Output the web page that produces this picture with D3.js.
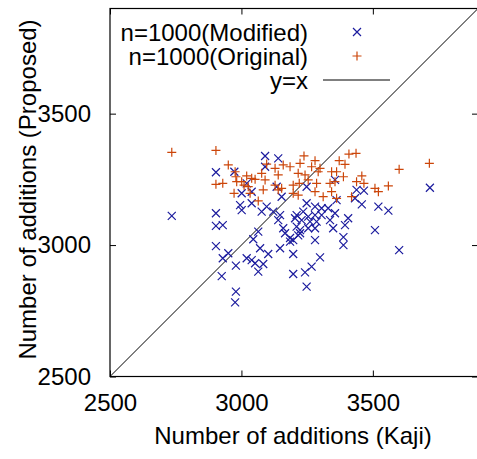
<!DOCTYPE html>
<html>
<head>
<meta charset="utf-8">
<script src="https://cdn.jsdelivr.net/npm/d3@7"></script>
<style>
  body { margin: 0; background: #fff; }
  text { font-family: "Liberation Sans", Arial, sans-serif; fill: #000; }
</style>
</head>
<body>
<svg id="chart"></svg>
<script>
// Number of additions: Kaji (x) vs Proposed (y)
const modifiedKaji = [2735, 2903, 2973, 3020, 3001, 3039, 2995, 3001, 3039, 2903, 2903, 2929, 3064, 3045, 2903, 2950, 2929, 3020, 3039, 3052, 2979, 3064, 2925, 2979, 2976,
  3090, 3140, 3090, 3717, 3134, 3248, 3438, 3466, 3432, 3362, 3458, 3153, 3521, 3559, 3096, 3121, 3248, 3280, 3305, 3330, 3356, 3077, 3147, 3210, 3235, 3254, 3280, 3305,
  3140, 3204, 3229, 3261, 3286, 3337, 3406, 3394, 3159, 3210, 3223, 3254, 3280, 3349, 3508, 3166, 3223, 3388, 3388, 3197, 3185, 3280, 3600, 3071, 3102, 3147, 3197,
  3299, 3267, 3242, 3197, 3083, 3248, 3216, 3185, 3356];
const modifiedProposed = [3111, 3277, 3279, 3235, 3197, 3203, 3152, 3133, 3159, 3121, 3073, 3076, 3051, 3022, 2996, 2969, 2950, 2950, 2943, 2931, 2922, 2899, 2882, 2823, 2782,
  3339, 3330, 3298, 3218, 3222, 3222, 3210, 3207, 3178, 3171, 3155, 3184, 3146, 3131, 3146, 3127, 3159, 3146, 3140, 3140, 3121, 3127, 3114, 3114, 3127, 3108, 3114, 3114,
  3095, 3102, 3095, 3089, 3089, 3095, 3102, 3076, 3064, 3070, 3057, 3064, 3064, 3064, 3057, 3045, 3045, 3030, 3000, 3019, 3013, 3019, 2981, 2988, 2966, 2988, 2966,
  2953, 2918, 2896, 2890, 2928, 2842, 3037, 3027, 3248];

const originalKaji = [2735, 2903, 2950, 2903, 2929, 2976, 2979, 2982, 3020, 3001, 3039, 3052, 2972, 3010, 3026, 3033, 3064,
  3238, 3280, 3409, 3436, 3715, 3600, 3096, 3128, 3159, 3185, 3223, 3267, 3299, 3372, 3394, 3077, 3090, 3140, 3216, 3242, 3292,
  3343, 3362, 3388, 3458, 3128, 3153, 3197, 3220, 3254, 3286, 3337, 3356, 3438, 3466, 3083, 3140, 3197, 3216, 3280, 3311, 3343,
  3362, 3419, 3508, 3521, 3559];
const originalProposed = [3353, 3360, 3305, 3231, 3235, 3279, 3260, 3241, 3263, 3241, 3254, 3250, 3197, 3228, 3222, 3197, 3168,
  3339, 3321, 3346, 3349, 3311, 3288, 3308, 3292, 3305, 3298, 3311, 3298, 3292, 3321, 3307, 3273, 3248, 3267, 3273, 3267, 3279,
  3279, 3279, 3260, 3263, 3228, 3216, 3228, 3235, 3248, 3235, 3235, 3241, 3241, 3235, 3210, 3210, 3197, 3190, 3203, 3184, 3203,
  3178, 3184, 3216, 3203, 3225];

const xTicks = [2500, 3000, 3500];
const yTicks = [2500, 3000, 3500];
const axisDomain = [2500, 3900];

const W = 477, H = 459;
const margin = { left: 110, right: -1, top: 8.5, bottom: 82.5 };
const blue = '#1c1c9e', orange = '#cc460a';

const svg = d3.select('#chart').attr('width', W).attr('height', H);

const x = d3.scaleLinear().domain(axisDomain).range([margin.left, W - margin.right]);
const y = d3.scaleLinear().domain(axisDomain).range([H - margin.bottom, margin.top]);

const [x0, x1] = x.range();
const [y0, y1] = y.range();

svg.append('clipPath').attr('id', 'clip')
  .append('rect').attr('x', x0).attr('y', y1).attr('width', x1 - x0).attr('height', y0 - y1);

const plot = svg.append('g').attr('clip-path', 'url(#clip)');

// y = x
plot.append('line')
  .attr('x1', x(axisDomain[0])).attr('y1', y(axisDomain[0]))
  .attr('x2', x(axisDomain[1])).attr('y2', y(axisDomain[1]))
  .attr('stroke', '#000').attr('stroke-width', 1);

const s = 4;
const modified = modifiedKaji.map((d, i) => [d, modifiedProposed[i]]);
const original = originalKaji.map((d, i) => [d, originalProposed[i]]);

plot.selectAll('.mod')
  .data(modified)
  .enter()
  .append('path')
  .attr('class', 'mod')
  .attr('d', d => `M${x(d[0]) - s},${y(d[1]) - s}L${x(d[0]) + s},${y(d[1]) + s}M${x(d[0]) - s},${y(d[1]) + s}L${x(d[0]) + s},${y(d[1]) - s}`)
  .attr('stroke', blue).attr('stroke-width', 1.2).attr('fill', 'none');

plot.selectAll('.orig')
  .data(original)
  .enter()
  .append('path')
  .attr('class', 'orig')
  .attr('d', d => `M${x(d[0]) - s - 0.5},${y(d[1])}L${x(d[0]) + s + 0.5},${y(d[1])}M${x(d[0])},${y(d[1]) - s - 0.5}L${x(d[0])},${y(d[1]) + s + 0.5}`)
  .attr('stroke', orange).attr('stroke-width', 1.2).attr('fill', 'none');

// axes: inward ticks on all four sides, gnuplot style
const fs = '24px';
const fmt = d3.format('d');
svg.append('g')
  .attr('transform', `translate(0,${y0})`)
  .call(d3.axisBottom(x).tickValues(xTicks).tickFormat(fmt).tickSizeInner(-6).tickSizeOuter(0).tickPadding(17))
  .call(g => g.select('.domain').remove())
  .call(g => g.selectAll('text').style('font-size', fs).attr('font-family', null));

svg.append('g')
  .attr('transform', `translate(0,${y1})`)
  .call(d3.axisTop(x).tickValues(xTicks).tickSizeInner(-6).tickSizeOuter(0).tickFormat(''))
  .call(g => g.select('.domain').remove());

svg.append('g')
  .attr('transform', `translate(${x0},0)`)
  .call(d3.axisLeft(y).tickValues(yTicks).tickFormat(fmt).tickSizeInner(-6).tickSizeOuter(0).tickPadding(19))
  .call(g => g.select('.domain').remove())
  .call(g => g.selectAll('text').style('font-size', fs).attr('font-family', null));

svg.append('g')
  .attr('transform', `translate(${x1},0)`)
  .call(d3.axisRight(y).tickValues(yTicks).tickSizeInner(-6).tickSizeOuter(0).tickFormat(''))
  .call(g => g.select('.domain').remove());

svg.append('rect')
  .attr('x', x0).attr('y', y1).attr('width', x1 - x0).attr('height', y0 - y1)
  .attr('fill', 'none').attr('stroke', '#000').attr('stroke-width', 1.2);

// axis titles
svg.append('text')
  .attr('x', (x0 + x1) / 2 - 1).attr('y', 444)
  .attr('text-anchor', 'middle').style('font-size', fs)
  .text('Number of additions (Kaji)');

svg.append('text')
  .attr('transform', `translate(36,${(y0 + y1) / 2 - 3}) rotate(-90)`)
  .attr('text-anchor', 'middle').style('font-size', fs)
  .text('Number of additions (Proposed)');

// legend
const legend = svg.append('g');
const rows = [
  { label: 'n=1000(Modified)', type: 'x', color: blue },
  { label: 'n=1000(Original)', type: '+', color: orange },
  { label: 'y=x', type: 'line', color: '#000' }
];
rows.forEach((r, i) => {
  const cy = 32 + i * 24;
  legend.append('text')
    .attr('x', 308).attr('y', cy + 8.5)
    .attr('text-anchor', 'end').style('font-size', fs)
    .text(r.label);
  const mx = 357;
  if (r.type === 'x') {
    legend.append('path')
      .attr('d', `M${mx - s},${cy - s}L${mx + s},${cy + s}M${mx - s},${cy + s}L${mx + s},${cy - s}`)
      .attr('stroke', r.color).attr('stroke-width', 1.2).attr('fill', 'none');
  } else if (r.type === '+') {
    legend.append('path')
      .attr('d', `M${mx - s - 0.5},${cy}L${mx + s + 0.5},${cy}M${mx},${cy - s - 0.5}L${mx},${cy + s + 0.5}`)
      .attr('stroke', r.color).attr('stroke-width', 1.2).attr('fill', 'none');
  } else {
    legend.append('line')
      .attr('x1', 323).attr('x2', 390).attr('y1', cy).attr('y2', cy)
      .attr('stroke', r.color).attr('stroke-width', 1);
  }
});
</script>
</body>
</html>
